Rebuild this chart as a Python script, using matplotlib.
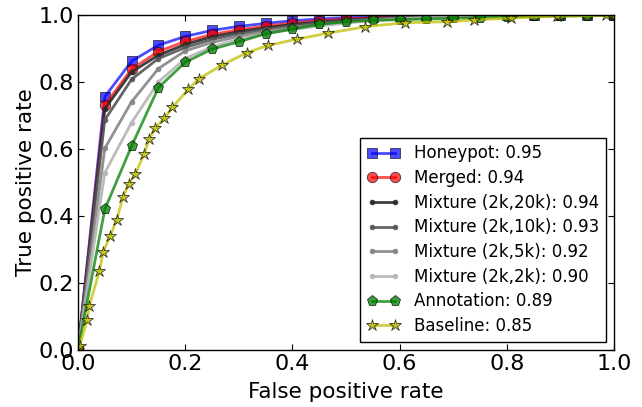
import matplotlib
matplotlib.use("Agg")
import matplotlib.pyplot as plt
import numpy as np

fpr = [0.0, 0.05, 0.10, 0.15, 0.20, 0.25, 0.30, 0.35, 0.40, 0.45, 0.50,
       0.55, 0.60, 0.65, 0.70, 0.75, 0.80, 0.85, 0.90, 0.95, 1.0]

honeypot = [0, 0.756, 0.862, 0.910, 0.936, 0.954, 0.966, 0.975, 0.983, 0.988, 0.992,
            0.995, 0.997, 0.998, 0.999, 0.999, 1, 1, 1, 1, 1]
merged = [0, 0.731, 0.839, 0.891, 0.921, 0.942, 0.956, 0.967, 0.976, 0.983, 0.988,
          0.992, 0.995, 0.997, 0.998, 0.999, 1, 1, 1, 1, 1]
mix_20k = [0, 0.720, 0.830, 0.880, 0.912, 0.935, 0.950, 0.962, 0.972, 0.979, 0.985,
           0.990, 0.993, 0.996, 0.998, 0.999, 1, 1, 1, 1, 1]
mix_10k = [0, 0.687, 0.808, 0.870, 0.903, 0.927, 0.944, 0.957, 0.968, 0.976, 0.983,
           0.988, 0.992, 0.995, 0.997, 0.998, 0.999, 1, 1, 1, 1]
mix_5k = [0, 0.602, 0.741, 0.840, 0.893, 0.918, 0.936, 0.951, 0.963, 0.972, 0.980,
          0.986, 0.990, 0.993, 0.996, 0.998, 0.999, 1, 1, 1, 1]
mix_2k = [0, 0.529, 0.679, 0.800, 0.870, 0.905, 0.928, 0.944, 0.957, 0.967, 0.976,
          0.983, 0.988, 0.992, 0.995, 0.997, 0.999, 1, 1, 1, 1]
annotation = [0, 0.420, 0.609, 0.783, 0.859, 0.898, 0.920, 0.944, 0.958, 0.972, 0.980,
              0.984, 0.986, 0.988, 0.990, 0.992, 0.994, 0.996, 0.997, 0.998, 1.0]

base_fpr = [0.0, 0.003, 0.017, 0.021, 0.040, 0.047, 0.060, 0.072, 0.084, 0.095, 0.107,
            0.123, 0.133, 0.144, 0.161, 0.176, 0.206, 0.225, 0.269, 0.316, 0.354,
            0.409, 0.467, 0.536, 0.610, 0.689, 0.739, 0.808, 0.893, 0.985, 1.0]
base_tpr = [0.0, 0.012, 0.090, 0.131, 0.236, 0.293, 0.340, 0.388, 0.456, 0.497, 0.525,
            0.584, 0.629, 0.662, 0.692, 0.724, 0.779, 0.809, 0.851, 0.888, 0.909,
            0.928, 0.946, 0.965, 0.977, 0.980, 0.985, 0.991, 0.996, 0.999, 1.0]

labels = ["Honeypot: 0.95", "Merged: 0.94", "Mixture (2k,20k): 0.94",
          "Mixture (2k,10k): 0.93", "Mixture (2k,5k): 0.92", "Mixture (2k,2k): 0.90",
          "Annotation: 0.89", "Baseline: 0.85"]

plt.rcParams['font.family'] = ['DejaVu Sans']
fig = plt.figure(figsize=(6.42, 4.07), dpi=100, facecolor='white')
W, H = 642.0, 407.0
ax = fig.add_axes([78 / W, 1 - 350 / H, (614 - 78) / W, (350 - 15) / H])

ax.plot(fpr, honeypot, 's-', color='b', alpha=0.7, lw=2, ms=7.5, mec='k', mew=0.6, label=labels[0])
ax.plot(fpr, merged, 'o-', color='r', alpha=0.7, lw=2, ms=7.5, mec='k', mew=0.6, label=labels[1])
ax.plot(fpr, mix_20k, 'o-', color='#2a2a2a', alpha=0.9, lw=2, ms=4, mew=0, label=labels[2])
ax.plot(fpr, mix_10k, 'o-', color='#555555', alpha=0.9, lw=2, ms=4, mew=0, label=labels[3])
ax.plot(fpr, mix_5k, 'o-', color='#858585', alpha=0.9, lw=2, ms=4, mew=0, label=labels[4])
ax.plot(fpr, mix_2k, 'o-', color='#b5b5b5', alpha=0.9, lw=2, ms=4, mew=0, label=labels[5])
ax.plot(fpr, annotation, 'p-', color='g', alpha=0.75, lw=2, ms=8, mec='k', mew=0.6, label=labels[6])
ax.plot(base_fpr, base_tpr, '*-', color='y', alpha=0.75, lw=2, ms=9, mec='k', mew=0.6, label=labels[7])

ax.set_xlim(0, 1)
ax.set_ylim(0, 1)
ax.set_xticks(np.arange(0, 1.01, 0.2))
ax.set_yticks(np.arange(0, 1.01, 0.2))
ax.tick_params(direction='in', top=True, right=True, labelsize=16, length=4, pad=3)
ax.set_xlabel("False positive rate", fontsize=15.5, labelpad=6)
ax.set_ylabel("True positive rate", fontsize=15.5, labelpad=2)
for s in ax.spines.values():
    s.set_linewidth(1.0)

leg = ax.legend(loc='lower right', numpoints=2, fontsize=12, fancybox=False,
                framealpha=1, edgecolor='k', borderaxespad=0.5, labelspacing=0.4,
                handlelength=2.0, borderpad=0.4)
leg.get_frame().set_linewidth(1.0)

fig.savefig("out.png", dpi=100, facecolor='white')
